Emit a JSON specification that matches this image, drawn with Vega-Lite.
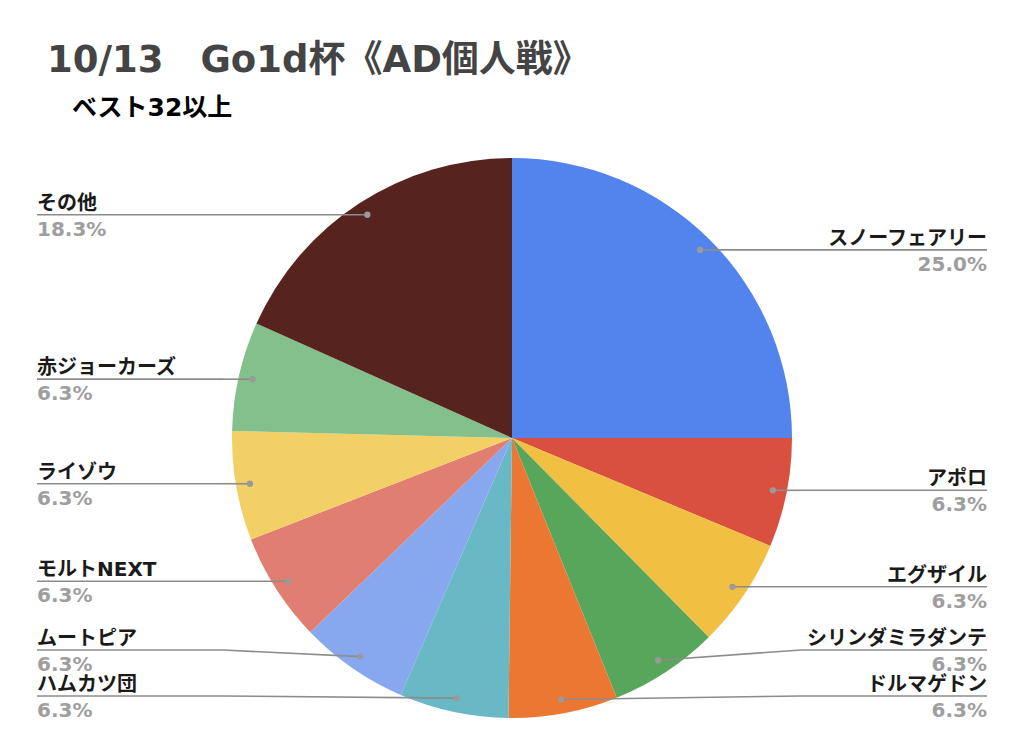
{
  "$schema": "https://vega.github.io/schema/vega-lite/v6.json",
  "width": 1024,
  "height": 600,
  "autosize": {"type": "none"},
  "padding": {"top": 138, "left": 0, "right": 0, "bottom": 0},
  "background": "white",
  "view": {"stroke": null},
  "title": {
    "text": "10/13　Go1d杯《AD個人戦》",
    "subtitle": "\u200b　ベスト32以上",
    "anchor": "start",
    "frame": "group",
    "dx": 47,
    "offset": 16,
    "font": "DejaVu Sans, Noto Sans CJK JP",
    "fontSize": 37,
    "fontWeight": "bold",
    "color": "#444444",
    "subtitleFont": "DejaVu Sans, Noto Sans CJK JP",
    "subtitleFontSize": 25,
    "subtitleFontWeight": "bold",
    "subtitleColor": "#000000",
    "subtitlePadding": 16
  },
  "data": {
    "values": [
      {"o": 1, "name": "スノーフェアリー", "value": 25.0},
      {"o": 2, "name": "アポロ", "value": 6.3},
      {"o": 3, "name": "エグザイル", "value": 6.3},
      {"o": 4, "name": "シリンダミラダンテ", "value": 6.3},
      {"o": 5, "name": "ドルマゲドン", "value": 6.3},
      {"o": 6, "name": "ハムカツ団", "value": 6.3},
      {"o": 7, "name": "ムートピア", "value": 6.3},
      {"o": 8, "name": "モルトNEXT", "value": 6.3},
      {"o": 9, "name": "ライゾウ", "value": 6.3},
      {"o": 10, "name": "赤ジョーカーズ", "value": 6.3},
      {"o": 11, "name": "その他", "value": 18.3}
    ]
  },
  "transform": [
    {"joinaggregate": [{"op": "sum", "field": "value", "as": "total"}]},
    {"window": [{"op": "sum", "field": "value", "as": "cum"}], "sort": [{"field": "o", "order": "ascending"}], "frame": [null, 0]},
    {"calculate": "(datum.cum - datum.value / 2) / datum.total * 2 * PI", "as": "mid"},
    {"calculate": "266 * sin(datum.mid)", "as": "dx"},
    {"calculate": "266 * cos(datum.mid)", "as": "dy"},
    {"calculate": "datum.dx >= 0 ? 'R' : 'L'", "as": "side"},
    {"window": [{"op": "row_number", "as": "rn"}], "groupby": ["side"], "sort": [{"field": "dy", "order": "ascending"}]},
    {"calculate": "max(datum.dy, -258 + 46 * (datum.rn - 1))", "as": "ly"},
    {"calculate": "datum.side == 'R' ? 475 : -475", "as": "ex"},
    {"calculate": "datum.side == 'R' ? 289 : -289", "as": "kx"},
    {"calculate": "format(datum.value, '.1f') + '%'", "as": "pct"}
  ],
  "layer": [
    {
      "mark": {"type": "arc", "outerRadius": 280},
      "encoding": {
        "theta": {"field": "value", "type": "quantitative", "stack": true},
        "order": {"field": "o", "type": "quantitative"},
        "color": {
          "field": "name",
          "type": "nominal",
          "legend": null,
          "scale": {
            "domain": ["スノーフェアリー", "アポロ", "エグザイル", "シリンダミラダンテ", "ドルマゲドン", "ハムカツ団", "ムートピア", "モルトNEXT", "ライゾウ", "赤ジョーカーズ", "その他"],
            "range": ["#5383EC", "#D9503F", "#F1BF42", "#58A65C", "#EB7733", "#68B8C5", "#87A8EF", "#E17E72", "#F3D065", "#84C08B", "#56231F"]
          }
        }
      }
    },
    {
      "mark": {"type": "rule", "color": "#8c8c8c", "strokeWidth": 1.6},
      "encoding": {
        "x": {"field": "ex", "type": "quantitative", "scale": {"domain": [-512, 512], "nice": false, "zero": false}, "axis": null},
        "x2": {"field": "kx"},
        "y": {"field": "ly", "type": "quantitative", "scale": {"domain": [-300, 300], "nice": false, "zero": false}, "axis": null},
        "y2": {"field": "ly"}
      }
    },
    {
      "mark": {"type": "rule", "color": "#8c8c8c", "strokeWidth": 1.6},
      "encoding": {
        "x": {"field": "kx", "type": "quantitative", "axis": null},
        "x2": {"field": "dx"},
        "y": {"field": "ly", "type": "quantitative", "axis": null},
        "y2": {"field": "dy"}
      }
    },
    {
      "mark": {"type": "point", "filled": true, "color": "#9a9a9a", "opacity": 1, "size": 40},
      "encoding": {
        "x": {"field": "dx", "type": "quantitative", "axis": null},
        "y": {"field": "dy", "type": "quantitative", "axis": null}
      }
    },
    {
      "transform": [{"filter": "datum.side == 'R'"}],
      "mark": {"type": "text", "align": "right", "baseline": "alphabetic", "dy": -5, "font": "DejaVu Sans, Noto Sans CJK JP", "fontSize": 20, "fontWeight": "bold", "color": "#1a1a1a"},
      "encoding": {
        "x": {"field": "ex", "type": "quantitative", "axis": null},
        "y": {"field": "ly", "type": "quantitative", "axis": null},
        "text": {"field": "name"}
      }
    },
    {
      "transform": [{"filter": "datum.side == 'L'"}],
      "mark": {"type": "text", "align": "left", "baseline": "alphabetic", "dy": -5, "font": "DejaVu Sans, Noto Sans CJK JP", "fontSize": 20, "fontWeight": "bold", "color": "#1a1a1a"},
      "encoding": {
        "x": {"field": "ex", "type": "quantitative", "axis": null},
        "y": {"field": "ly", "type": "quantitative", "axis": null},
        "text": {"field": "name"}
      }
    },
    {
      "transform": [{"filter": "datum.side == 'R'"}],
      "mark": {"type": "text", "align": "right", "baseline": "alphabetic", "dy": 21, "font": "DejaVu Sans, Noto Sans CJK JP", "fontSize": 20, "fontWeight": "bold", "color": "#9e9e9e"},
      "encoding": {
        "x": {"field": "ex", "type": "quantitative", "axis": null},
        "y": {"field": "ly", "type": "quantitative", "axis": null},
        "text": {"field": "pct"}
      }
    },
    {
      "transform": [{"filter": "datum.side == 'L'"}],
      "mark": {"type": "text", "align": "left", "baseline": "alphabetic", "dy": 21, "font": "DejaVu Sans, Noto Sans CJK JP", "fontSize": 20, "fontWeight": "bold", "color": "#9e9e9e"},
      "encoding": {
        "x": {"field": "ex", "type": "quantitative", "axis": null},
        "y": {"field": "ly", "type": "quantitative", "axis": null},
        "text": {"field": "pct"}
      }
    }
  ]
}
